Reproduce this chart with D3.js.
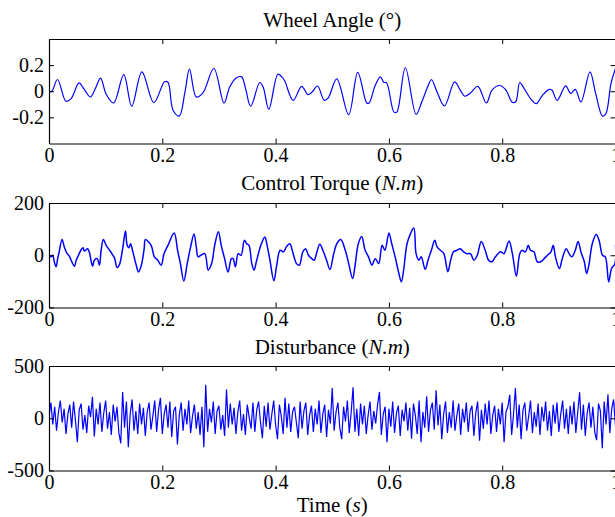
<!DOCTYPE html>
<html>
<head>
<meta charset="utf-8">
<style>
  body { margin: 0; background: #fff; }
  svg { display: block; }
  text { font-family: "Liberation Serif", "DejaVu Serif", serif; fill: #000; }
  .tick line, .domain { stroke: #000; }
</style>
</head>
<body>
<div id="chart"></div>
<script src="https://cdn.jsdelivr.net/npm/d3@7/dist/d3.min.js"></script>
<script>
'use strict';

var width = 615, height = 517;

// x ticks shared by all three panels
var timeTicks = [0, 0.2, 0.4, 0.6, 0.8, 1];
var timeTickLabels = ['0', '0.2', '0.4', '0.6', '0.8', '1'];

// Wheel angle (deg)
var angleTime = [0, 0.005, 0.015, 0.030, 0.039, 0.053, 0.060, 0.064, 0.073, 0.083, 0.091, 0.101, 0.114,
  0.132, 0.146, 0.164, 0.185, 0.204, 0.210, 0.219, 0.230, 0.240, 0.248, 0.260, 0.272, 0.291, 0.309,
  0.319, 0.331, 0.340, 0.347, 0.356, 0.372, 0.378, 0.388, 0.404, 0.411, 0.416, 0.431, 0.446, 0.457,
  0.464, 0.474, 0.486, 0.493, 0.508, 0.529, 0.545, 0.561, 0.565, 0.576, 0.585, 0.591, 0.596, 0.609,
  0.614, 0.629, 0.648, 0.658, 0.670, 0.675, 0.685, 0.698, 0.716, 0.726, 0.734, 0.744, 0.757, 0.772,
  0.782, 0.795, 0.806, 0.818, 0.824, 0.831, 0.838, 0.850, 0.860, 0.871, 0.883, 0.888, 0.897, 0.912,
  0.921, 0.929, 0.939, 0.955, 0.965, 0.977, 0.983, 0.992, 1.0];
var angleValues = [0, 0.0, 0.09, -0.077, -0.056, 0.064, 0.028, 0.003, -0.044, 0.033, 0.10, -0.023, -0.09,
  0.128, -0.115, 0.149, -0.087, 0.072, 0.069, -0.146, -0.19, -0.005, 0.17, -0.044, -0.01, 0.174, -0.09,
  0.033, 0.103, 0.11, 0.02, -0.115, 0.067, 0.033, -0.138, 0.13, 0.11, 0.08, -0.07, 0.038, -0.026,
  -0.008, 0.04, -0.07, -0.05, 0.095, -0.18, 0.144, -0.09, -0.09, 0.046, 0.11, 0.069, 0.064, -0.16,
  -0.16, 0.18, -0.177, -0.082, 0.05, 0.09, -0.005, -0.113, 0.072, 0.008, -0.038, -0.013, 0.038, -0.09,
  0.008, 0.044, 0.013, -0.085, -0.08, 0.067, 0.026, -0.056, -0.095, -0.031, 0.015, 0.008, -0.07, 0.041,
  -0.018, 0.015, -0.082, 0.149, -0.018, -0.19, -0.172, 0.059, 0.174];

// Control torque (N.m)
var torqueTime = [0, 0.0035, 0.0065, 0.0094, 0.0124, 0.0153, 0.018, 0.023, 0.027, 0.032, 0.036, 0.039,
  0.045, 0.048, 0.052, 0.057, 0.060, 0.0625, 0.068, 0.071, 0.077, 0.080, 0.085, 0.089, 0.092, 0.096,
  0.101, 0.107, 0.111, 0.116, 0.120, 0.124, 0.130, 0.135, 0.138, 0.141, 0.144, 0.148, 0.154, 0.158,
  0.163, 0.168, 0.170, 0.176, 0.181, 0.186, 0.192, 0.198, 0.203, 0.210, 0.221, 0.227, 0.232, 0.238,
  0.244, 0.250, 0.256, 0.260, 0.263, 0.268, 0.275, 0.281, 0.287, 0.293, 0.299, 0.304, 0.310, 0.316,
  0.322, 0.325, 0.329, 0.334, 0.339, 0.345, 0.349, 0.353, 0.358, 0.362, 0.366, 0.374, 0.381, 0.385,
  0.390, 0.397, 0.402, 0.408, 0.414, 0.419, 0.425, 0.431, 0.437, 0.442, 0.448, 0.453, 0.458, 0.464,
  0.468, 0.473, 0.478, 0.484, 0.490, 0.496, 0.502, 0.508, 0.515, 0.523, 0.529, 0.536, 0.540, 0.546,
  0.552, 0.558, 0.564, 0.570, 0.576, 0.582, 0.588, 0.593, 0.600, 0.605, 0.611, 0.617, 0.622, 0.626,
  0.632, 0.638, 0.644, 0.648, 0.653, 0.657, 0.664, 0.669, 0.675, 0.681, 0.685, 0.691, 0.697, 0.704,
  0.709, 0.714, 0.720, 0.726, 0.732, 0.738, 0.744, 0.750, 0.756, 0.763, 0.770, 0.776, 0.782, 0.788,
  0.797, 0.803, 0.812, 0.818, 0.825, 0.831, 0.835, 0.841, 0.846, 0.850, 0.856, 0.862, 0.868, 0.874,
  0.880, 0.886, 0.890, 0.894, 0.901, 0.906, 0.913, 0.918, 0.923, 0.929, 0.934, 0.939, 0.945, 0.949,
  0.953, 0.959, 0.966, 0.971, 0.977, 0.982, 0.988, 0.993, 0.999, 1.0];
var torqueValues = [0, -6, 0, -25, -44, -13, 13, 60, 32, 6, -4, -19,
  -42, -19, 0, 22, 29, 16, 25, 13, -42, -19, -13, -38, 19, 60,
  38, 19, 6, -13, -47, -38, 25, 93, 38, 29, 44, 13, -38, -64,
  -38, 25, 60, 51, 34, -6, -19, -38, 6, 38, 85, 19, -32, -99,
  -32, 32, 81, 32, -6, 0, 6, -57, -32, 44, 90, 38, -13, -64,
  -13, -13, -44, 6, 0, 57, 44, 38, -32, -57, -25, 38, 70, 38,
  -19, -98, -38, 19, 13, 32, 44, 6, -32, -38, 13, 25, 0, -13,
  -19, 13, 42, 16, -19, -55, 0, 44, 60, 19, -32, -89, -44, 44,
  72, 19, -6, -38, -13, -32, 38, 19, 85, 44, -6, -64, -102, -57,
  44, 82, 104, 6, -19, -6, -54, -19, 19, 57, 32, 19, 6, -63,
  -19, 13, 19, 25, 13, 6, 6, -19, 0, 53, 19, -19, -25, -6,
  13, 6, 55, 6, -80, 6, 19, 13, 38, 19, 13, -25, -25, -13,
  0, 13, 38, -6, -51, -13, 25, 6, -6, 19, 53, 13, -25, -70,
  -38, 44, 79, 57, 0, -6, -102, -51, -32, 38];

// Disturbance (N.m), 301 samples over 1 s
var disturbanceValues = [
  20, 150, -60, 110, -120, 60, 170, -40, 90, -150,
  40, 130, -90, 160, -20, -230, 80, 140, -110, 30,
  -140, 120, 10, 205, -175, 90, -60, 150, -130, 50,
  170, -100, 60, -160, 130, -30, 110, -140, -240, 252,
  -90, 160, -277, 40, 180, -120, 70, -150, 140, -60,
  100, -170, 60, 150, -110, 20, 170, -130, 80, 195,
  -150, 40, 130, -90, 160, -180, 70, 110, -250, 30,
  150, -120, 90, -60, 170, -140, 20, 130, -100, 60,
  -160, 110, -277, 321, -130, 90, -40, 160, -150, 70,
  120, -110, 30, -170, 274, -90, 140, -60, 100, -150,
  60, 170, -120, 40, -160, 130, 10, -100, 150, -130,
  80, 160, -40, -190, 120, -80, 150, -110, 40, 170,
  -60, -200, 130, 20, -150, 195, -90, 140, -130, 60,
  110, -40, -190, 160, -100, 70, 150, -160, 30, 120,
  -130, 90, -60, 170, -140, 40, 130, -180, 80, -50,
  290, -120, 60, 150, -90, -200, 110, -30, 170, -140,
  50, 296, -130, 90, -170, 140, -60, 120, -150, 30,
  160, -110, 70, -50, 130, 252, -160, 40, 110, -230,
  90, -80, 160, -140, 50, 120, -170, 80, -30, 150,
  -120, 100, -195, 140, 30, -150, 170, -230, 60, -90,
  211, -130, 80, 150, -110, 268, -70, 130, -200, 40,
  160, -140, 60, -90, 170, -120, 30, 140, -160, 90,
  -40, 150, -130, 70, 120, -170, 50, 160, -215, 80,
  -100, 140, -60, 170, -150, 30, 120, -130, 90, -60,
  150, -230, 60, 110, 225, -160, 40, 290, -90, 130,
  -200, 80, 150, -120, 20, 170, -140, 60, -80, 140,
  -160, 110, -30, 160, -120, 70, -170, 130, -50, 150,
  -130, 40, 170, -100, 90, -150, 120, -60, 160, -140,
  60, 249, -110, 130, -170, 50, 150, -90, 110, -130,
  -210, 140, 70, -287, 160, -60, 230, -140, 90, 180,
  -80];
var disturbanceTime = disturbanceValues.map(function(d, i) { return i / (disturbanceValues.length - 1); });

var angleTicks = [-0.2, 0, 0.2], angleTickLabels = ['-0.2', '0', '0.2'];
var torqueTicks = [-200, 0, 200], torqueTickLabels = ['-200', '0', '200'];
var distTicks = [-500, 0, 500], distTickLabels = ['-500', '0', '500'];

var left = 49, right = 615.5, ph = 104.5;

var svg = d3.select('#chart').append('svg')
  .attr('width', width).attr('height', height);

var x = d3.scaleLinear().domain([0, 1]).range([left, right]);

function panel(top, yDomain, ticks, tickLabels, times, values, curve, sw, id) {
  var y = d3.scaleLinear().domain(yDomain).range([top + ph, top]);
  var g = svg.append('g');

  g.append('clipPath').attr('id', 'clip' + id)
    .append('rect').attr('x', left).attr('y', top).attr('width', right - left).attr('height', ph);

  var line = d3.line()
    .x(function(d, i) { return x(times[i]); })
    .y(function(d) { return y(d); })
    .curve(curve);

  g.append('path')
    .attr('clip-path', 'url(#clip' + id + ')')
    .attr('d', line(values))
    .attr('fill', 'none')
    .attr('stroke', '#0000ff')
    .attr('stroke-width', sw);

  var fmtX = function(d) { return timeTickLabels[timeTicks.indexOf(d)]; };
  var fmtY = function(d) { return tickLabels[ticks.indexOf(d)]; };

  g.append('g').attr('transform', 'translate(0,' + (top + ph) + ')')
    .call(d3.axisBottom(x).tickValues(timeTicks).tickFormat(fmtX).tickSizeInner(-5).tickSizeOuter(0).tickPadding(4))
    .call(function(a) { a.selectAll('text').attr('font-size', 20).attr('font-family', null); });
  g.append('g').attr('transform', 'translate(0,' + top + ')')
    .call(d3.axisTop(x).tickValues(timeTicks).tickFormat('').tickSizeInner(-5).tickSizeOuter(0));
  g.append('g').attr('transform', 'translate(' + left + ',0)')
    .call(d3.axisLeft(y).tickValues(ticks).tickFormat(fmtY).tickSizeInner(-5).tickSizeOuter(0).tickPadding(5))
    .call(function(a) { a.selectAll('text').attr('font-size', 20).attr('font-family', null); });
  g.append('g').attr('transform', 'translate(' + right + ',0)')
    .call(d3.axisRight(y).tickValues(ticks).tickFormat('').tickSizeInner(-5).tickSizeOuter(0));

  g.selectAll('.domain').attr('stroke-width', 1.2);
  return g;
}

panel(39, [-0.4, 0.4], angleTicks, angleTickLabels, angleTime, angleValues, d3.curveCatmullRom, 1.2, 1);
panel(203, [-200, 200], torqueTicks, torqueTickLabels, torqueTime, torqueValues, d3.curveCatmullRom, 1.5, 2);
panel(366, [-500, 500], distTicks, distTickLabels, disturbanceTime, disturbanceValues, d3.curveLinear, 1.2, 3);

function title(yPos, parts) {
  var t = svg.append('text').attr('x', (left + right) / 2).attr('y', yPos)
    .attr('text-anchor', 'middle').attr('font-size', 21);
  parts.forEach(function(p) {
    t.append('tspan').attr('font-style', p[1] ? 'italic' : null).text(p[0]);
  });
}

title(27, [['Wheel Angle (°)', false]]);
title(190, [['Control Torque (', false], ['N.m', true], [')', false]]);
title(354, [['Disturbance (', false], ['N.m', true], [')', false]]);
title(512, [['Time (', false], ['s', true], [')', false]]);
</script>
</body>
</html>
